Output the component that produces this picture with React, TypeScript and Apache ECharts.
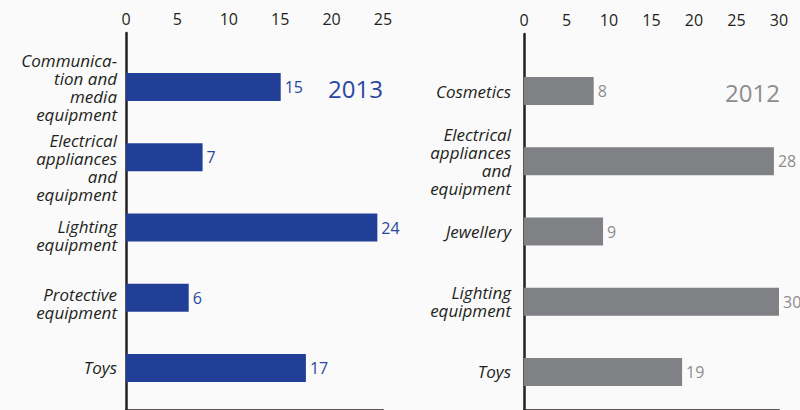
import React, { useEffect, useRef } from "react";
import * as echarts from "echarts";

// 2013 panel
const categories2013 = [
  "Communica-\ntion and\nmedia\nequipment",
  "Electrical\nappliances\nand\nequipment",
  "Lighting\nequipment",
  "Protective\nequipment",
  "Toys",
];
// bar lengths as drawn in the picture
const values2013 = [15.05, 7.45, 24.45, 6.1, 17.5];
// values printed next to the bars
const printed2013 = [15, 7, 24, 6, 17];

// 2012 panel
const categories2012 = [
  "Cosmetics",
  "Electrical\nappliances\nand\nequipment",
  "Jewellery",
  "Lighting\nequipment",
  "Toys",
];
const values2012 = [8.2, 29.4, 9.3, 30, 18.6];
const printed2012 = [8, 28, 9, 30, 19];

const year2013 = "2013";
const year2012 = "2012";
const axisMax2013 = 25;
const axisMax2012 = 30;
const tickStep = 5;

const FONT = "'Open Sans', 'Noto Sans', sans-serif";
const DARK = "#231f20";
const BLUE = "#223f98";
const BLUE_TEXT = "#2a47a0";
const GRAY = "#808184";
const GRAY_TEXT = "#8d8d8f";

// downward nudges (px) of the left panel's category labels, as in the original layout
const LEFT_LABEL_NUDGE = [0, 10, 8, 6, 0];

export default function App() {
  const ref = useRef<HTMLDivElement>(null);
  useEffect(() => {
    if (!ref.current) return;
    const chart = echarts.init(ref.current, undefined, { renderer: "svg" });

    const axisX = (gridIndex: number, max: number) => ({
      type: "value",
      gridIndex,
      position: "top",
      min: 0,
      max,
      interval: tickStep,
      axisLine: { show: true, lineStyle: { color: DARK, width: 2.5 } },
      axisTick: { show: true, inside: true, length: 17, lineStyle: { color: DARK, width: 2.5 } },
      axisLabel: { show: true, color: DARK, fontSize: 16, fontFamily: FONT, margin: 6 },
      splitLine: { show: false },
    });
    const hiddenX = (gridIndex: number, max: number) => ({
      type: "value",
      gridIndex,
      min: 0,
      max,
      show: false,
    });
    const lineY = (gridIndex: number) => ({
      type: "value",
      gridIndex,
      min: 0,
      max: 1,
      axisLine: { show: true, onZero: false, lineStyle: { color: DARK, width: 2.5 } },
      axisTick: { show: false },
      axisLabel: { show: false },
      splitLine: { show: false },
    });

    const labelStyle = {
      color: DARK,
      fontSize: 17,
      fontStyle: "italic",
      fontFamily: FONT,
      lineHeight: 18,
    };
    const rich: Record<string, any> = {};
    LEFT_LABEL_NUDGE.forEach((n, i) => {
      if (n) rich["s" + i] = { fontSize: 1, lineHeight: n * 2 };
    });
    rich.t = { ...labelStyle };

    const catY = (gridIndex: number, data: string[], margin: number, nudge?: number[]) => ({
      type: "category",
      gridIndex,
      inverse: true,
      data,
      axisLine: { show: false },
      axisTick: { show: false },
      axisLabel: {
        interval: 0,
        ...labelStyle,
        margin,
        align: "right",
        ...(nudge
          ? {
              rich,
              formatter: (v: string, i: number) =>
                nudge[i]
                  ? `{s${i}| }\n` + v.split("\n").map((l) => `{t|${l}}`).join("\n")
                  : v,
            }
          : {}),
      },
    });

    chart.setOption({
      animation: false,
      backgroundColor: "#fafafa",
      grid: [
        { left: 126, top: 33, width: 257, bottom: 0 },
        { left: 126, top: 52, width: 257, bottom: 7 },
        { left: 524, top: 34, width: 255, bottom: 0 },
        { left: 524, top: 56, width: 255, bottom: 3 },
      ],
      xAxis: [
        axisX(0, axisMax2013),
        hiddenX(1, axisMax2013),
        axisX(2, axisMax2012),
        hiddenX(3, axisMax2012),
      ],
      yAxis: [
        lineY(0),
        catY(1, categories2013, 9, LEFT_LABEL_NUDGE),
        lineY(2),
        catY(3, categories2012, 13),
      ],
      series: [
        {
          type: "bar",
          xAxisIndex: 1,
          yAxisIndex: 1,
          data: values2013,
          barWidth: 28,
          itemStyle: { color: BLUE },
          label: {
            show: true,
            position: "right",
            distance: 4,
            color: BLUE_TEXT,
            fontSize: 16,
            fontFamily: FONT,
            formatter: (p: any) => String(printed2013[p.dataIndex]),
          },
        },
        {
          type: "bar",
          xAxisIndex: 3,
          yAxisIndex: 3,
          data: values2012,
          barWidth: 28,
          itemStyle: { color: GRAY },
          label: {
            show: true,
            position: "right",
            distance: 4,
            color: GRAY_TEXT,
            fontSize: 16,
            fontFamily: FONT,
            formatter: (p: any) => String(printed2012[p.dataIndex]),
          },
        },
      ],
      graphic: [
        {
          type: "text",
          x: 383,
          y: 88,
          style: {
            text: year2013,
            fill: BLUE_TEXT,
            fontSize: 24,
            fontFamily: FONT,
            align: "right",
            verticalAlign: "middle",
          },
        },
        {
          type: "text",
          x: 780,
          y: 92,
          style: {
            text: year2012,
            fill: GRAY_TEXT,
            fontSize: 24,
            fontFamily: FONT,
            align: "right",
            verticalAlign: "middle",
          },
        },
      ],
    });
    return () => chart.dispose();
  }, []);
  return <div ref={ref} style={{ width: 800, height: 410, position: "absolute", left: 0, top: 0 }} />;
}
